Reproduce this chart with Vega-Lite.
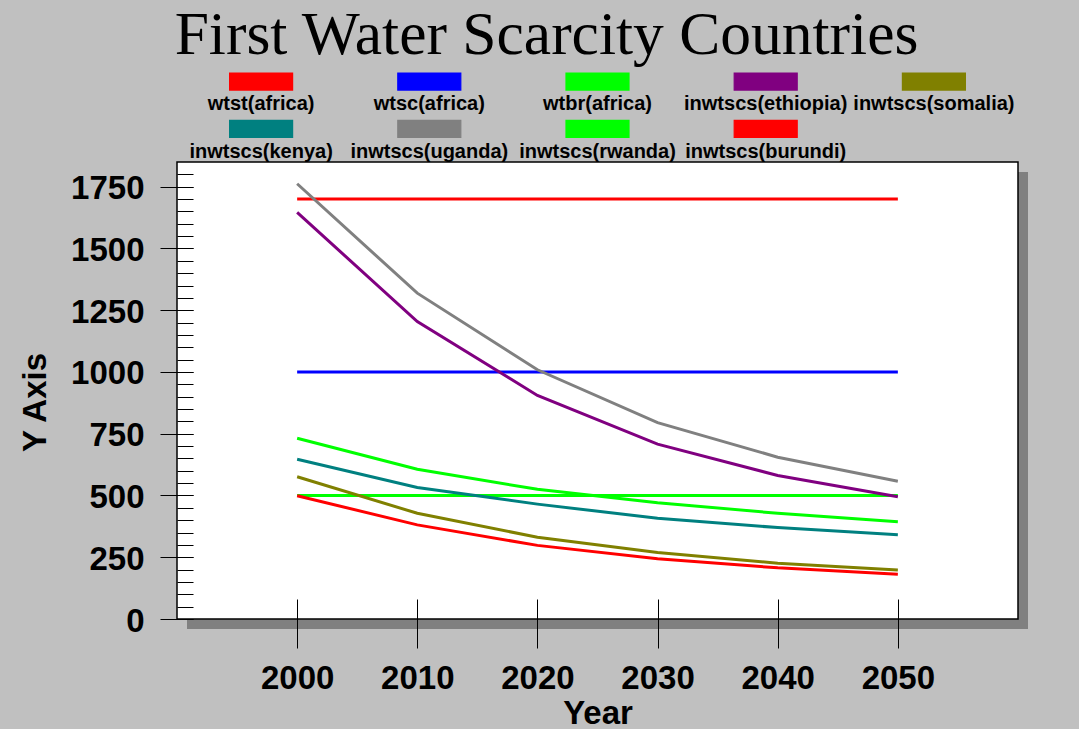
{
  "$schema": "https://vega.github.io/schema/vega-lite/v6.json",
  "width": 841,
  "height": 457,
  "autosize": {"type": "none"},
  "padding": {"left": 177, "top": 162, "right": 61, "bottom": 110},
  "background": "#c0c0c0",
  "config": {
    "view": {"stroke": null, "fill": null},
    "axis": {"labelFont": "Liberation Sans", "titleFont": "Liberation Sans", "labelColor": "#000", "titleColor": "#000", "tickColor": "#000", "grid": false, "domain": false}
  },
  "title": {
    "text": "First Water Scarcity Countries",
    "font": "Liberation Serif",
    "fontSize": 61.5,
    "fontWeight": "normal",
    "color": "#000",
    "anchor": "middle",
    "dx": -51,
    "baseline": "alphabetic",
    "offset": -43
  },
  "layer": [
    {
      "data": {"values": [{}]},
      "mark": {"type": "rect", "fill": "#808080", "xOffset": 10, "x2Offset": 10, "yOffset": 10, "y2Offset": 10},
      "encoding": {
        "x": {"datum": 1990, "type": "quantitative", "axis": null},
        "x2": {"datum": 2060},
        "y": {"datum": 0, "type": "quantitative", "axis": null},
        "y2": {"datum": 1850}
      }
    },
    {
      "data": {"values": [{}]},
      "mark": {"type": "rect", "fill": "#ffffff", "stroke": "#000000", "strokeWidth": 1.5},
      "encoding": {
        "x": {"datum": 1990, "type": "quantitative", "axis": null},
        "x2": {"datum": 2060},
        "y": {
          "datum": 0,
          "type": "quantitative",
          "axis": {
            "orient": "left",
            "values": [0,50,100,150,200,250,300,350,400,450,500,550,600,650,700,750,800,850,900,950,1000,1050,1100,1150,1200,1250,1300,1350,1400,1450,1500,1550,1600,1650,1700,1750,1800],
            "labels": false,
            "title": null,
            "tickSize": 16,
            "offset": -16,
            "zindex": 1,
            "domain": false
          }
        },
        "y2": {"datum": 1850}
      }
    },
    {
      "data": {
        "values": [
          {"year": 2000, "value": 1700, "series": "wtst(africa)"},
          {"year": 2010, "value": 1700, "series": "wtst(africa)"},
          {"year": 2020, "value": 1700, "series": "wtst(africa)"},
          {"year": 2030, "value": 1700, "series": "wtst(africa)"},
          {"year": 2040, "value": 1700, "series": "wtst(africa)"},
          {"year": 2050, "value": 1700, "series": "wtst(africa)"},
          {"year": 2000, "value": 1000, "series": "wtsc(africa)"},
          {"year": 2010, "value": 1000, "series": "wtsc(africa)"},
          {"year": 2020, "value": 1000, "series": "wtsc(africa)"},
          {"year": 2030, "value": 1000, "series": "wtsc(africa)"},
          {"year": 2040, "value": 1000, "series": "wtsc(africa)"},
          {"year": 2050, "value": 1000, "series": "wtsc(africa)"},
          {"year": 2000, "value": 500, "series": "wtbr(africa)"},
          {"year": 2010, "value": 500, "series": "wtbr(africa)"},
          {"year": 2020, "value": 500, "series": "wtbr(africa)"},
          {"year": 2030, "value": 500, "series": "wtbr(africa)"},
          {"year": 2040, "value": 500, "series": "wtbr(africa)"},
          {"year": 2050, "value": 500, "series": "wtbr(africa)"},
          {"year": 2000, "value": 1646, "series": "inwtscs(ethiopia)"},
          {"year": 2010, "value": 1204, "series": "inwtscs(ethiopia)"},
          {"year": 2020, "value": 905, "series": "inwtscs(ethiopia)"},
          {"year": 2030, "value": 708, "series": "inwtscs(ethiopia)"},
          {"year": 2040, "value": 581, "series": "inwtscs(ethiopia)"},
          {"year": 2050, "value": 495, "series": "inwtscs(ethiopia)"},
          {"year": 2000, "value": 576, "series": "inwtscs(somalia)"},
          {"year": 2010, "value": 428, "series": "inwtscs(somalia)"},
          {"year": 2020, "value": 331, "series": "inwtscs(somalia)"},
          {"year": 2030, "value": 269, "series": "inwtscs(somalia)"},
          {"year": 2040, "value": 226, "series": "inwtscs(somalia)"},
          {"year": 2050, "value": 198, "series": "inwtscs(somalia)"},
          {"year": 2000, "value": 647, "series": "inwtscs(kenya)"},
          {"year": 2010, "value": 532, "series": "inwtscs(kenya)"},
          {"year": 2020, "value": 465, "series": "inwtscs(kenya)"},
          {"year": 2030, "value": 408, "series": "inwtscs(kenya)"},
          {"year": 2040, "value": 370, "series": "inwtscs(kenya)"},
          {"year": 2050, "value": 341, "series": "inwtscs(kenya)"},
          {"year": 2000, "value": 1762, "series": "inwtscs(uganda)"},
          {"year": 2010, "value": 1319, "series": "inwtscs(uganda)"},
          {"year": 2020, "value": 1009, "series": "inwtscs(uganda)"},
          {"year": 2030, "value": 795, "series": "inwtscs(uganda)"},
          {"year": 2040, "value": 655, "series": "inwtscs(uganda)"},
          {"year": 2050, "value": 558, "series": "inwtscs(uganda)"},
          {"year": 2000, "value": 732, "series": "inwtscs(rwanda)"},
          {"year": 2010, "value": 606, "series": "inwtscs(rwanda)"},
          {"year": 2020, "value": 525, "series": "inwtscs(rwanda)"},
          {"year": 2030, "value": 471, "series": "inwtscs(rwanda)"},
          {"year": 2040, "value": 428, "series": "inwtscs(rwanda)"},
          {"year": 2050, "value": 394, "series": "inwtscs(rwanda)"},
          {"year": 2000, "value": 499, "series": "inwtscs(burundi)"},
          {"year": 2010, "value": 381, "series": "inwtscs(burundi)"},
          {"year": 2020, "value": 298, "series": "inwtscs(burundi)"},
          {"year": 2030, "value": 244, "series": "inwtscs(burundi)"},
          {"year": 2040, "value": 207, "series": "inwtscs(burundi)"},
          {"year": 2050, "value": 181, "series": "inwtscs(burundi)"}
        ]
      },
      "mark": {"type": "line", "strokeWidth": 3},
      "encoding": {
        "x": {
          "field": "year",
          "type": "quantitative",
          "scale": {"domain": [1990, 2060], "nice": false, "zero": false},
          "axis": {
            "orient": "bottom",
            "values": [2000, 2010, 2020, 2030, 2040, 2050],
            "format": "d",
            "offset": -20,
            "tickSize": 49,
            "labelPadding": 14,
            "labelFontSize": 33,
            "labelFontWeight": "bold",
            "title": "Year",
            "titleFontSize": 33,
            "titleFontWeight": "bold",
            "titleBaseline": "alphabetic",
            "titleY": 124,
            "zindex": 1
          }
        },
        "y": {
          "field": "value",
          "type": "quantitative",
          "scale": {"domain": [0, 1850], "nice": false},
          "axis": {
            "orient": "left",
            "values": [0, 250, 500, 750, 1000, 1250, 1500, 1750],
            "format": "d",
            "offset": -16,
            "tickSize": 33,
            "labelPadding": 16,
            "labelOffset": 2,
            "labelFontSize": 33,
            "labelFontWeight": "bold",
            "title": "Y Axis",
            "titleFontSize": 33,
            "titleFontWeight": "bold",
            "titleBaseline": "alphabetic",
            "titleX": -148,
            "titleY": 240,
            "zindex": 1
          }
        },
        "color": {
          "field": "series",
          "type": "nominal",
          "sort": null,
          "scale": {
            "domain": ["wtst(africa)", "wtsc(africa)", "wtbr(africa)", "inwtscs(ethiopia)", "inwtscs(somalia)", "inwtscs(kenya)", "inwtscs(uganda)", "inwtscs(rwanda)", "inwtscs(burundi)"],
            "range": ["#ff0000", "#0000ff", "#00ff00", "#800080", "#808000", "#008080", "#808080", "#00ff00", "#ff0000"]
          },
          "legend": {
            "orient": "none",
            "legendX": 0,
            "legendY": -89.3,
            "title": null,
            "columns": 5,
            "direction": "horizontal",
            "gridAlign": "all",
            "padding": 0,
            "columnPadding": 2.2,
            "rowPadding": 2.6,
            "labelFont": "Liberation Sans",
            "labelFontSize": 20,
            "labelFontWeight": "bold",
            "labelColor": "#000",
            "labelLimit": 400,
            "labelAlign": "center",
            "labelBaseline": "alphabetic",
            "symbolType": "M-1.75,-0.4722H1.75V0.4722H-1.75Z",
            "symbolSize": 1296,
            "symbolStrokeWidth": 1,
            "symbolStrokeColor": "#222222",
            "encode": {
              "symbols": {
                "enter": {"stroke": {"value": "#222222"}, "strokeWidth": {"value": 1.2}},
                "update": {"x": {"value": 84.1}, "y": {"value": 8.5}, "fill": {"scale": "color", "field": "value"}, "fillOpacity": {"value": 1}, "stroke": {"value": "#222222"}, "strokeOpacity": {"value": 1}, "strokeWidth": {"value": 1.2}, "opacity": {"value": 1}, "shape": {"value": "M-1.75,-0.4722H1.75V0.4722H-1.75Z"}, "size": {"value": 1296}}
              },
              "labels": {"update": {"x": {"value": 84.1}, "y": {"value": 37.3}, "align": {"value": "center"}, "baseline": {"value": "alphabetic"}}}
            }
          }
        }
      }
    }
  ],
  "resolve": {"axis": {"y": "independent", "x": "independent"}}
}
